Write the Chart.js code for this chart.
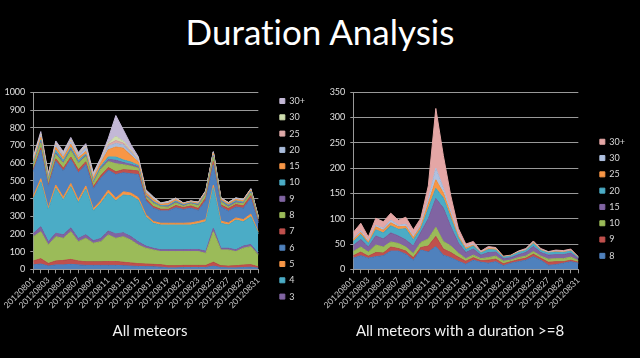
<!DOCTYPE html>
<html><head><meta charset="utf-8">
<script src="https://cdn.jsdelivr.net/npm/chart.js@4/dist/chart.umd.min.js"></script>
<style>
html,body{margin:0;padding:0;background:#000;width:640px;height:358px;overflow:hidden}
#title{position:absolute;left:0;top:14px;width:640px;text-align:center;color:#fff;font:35px/35px Lato,sans-serif;font-variant-ligatures:none;font-feature-settings:"liga" 0}
.sub{position:absolute;top:323px;color:#f2f2f2;font:15px/15px Lato,sans-serif;text-align:center;white-space:nowrap}
.wrap{position:absolute;top:0;width:320px;height:358px}
</style></head><body>
<div id="title">Duration Analysis</div>
<div class="wrap" style="left:0"><canvas id="c1" width="320" height="358"></canvas></div>
<div class="wrap" style="left:320px"><canvas id="c2" width="320" height="358"></canvas></div>
<div class="sub" style="left:50px;width:200px">All meteors</div>
<div class="sub" style="left:310px;width:300px">All meteors with a duration &gt;=8</div>
<script>
const days = ['20120801','20120802','20120803','20120804','20120805','20120806','20120807','20120808','20120809','20120810',
  '20120811','20120812','20120813','20120814','20120815','20120816','20120817','20120818','20120819','20120820',
  '20120821','20120822','20120823','20120824','20120825','20120826','20120827','20120828','20120829','20120830','20120831'];

// durations 0..7 (left chart only)
const d0 = [25,30,18,25,25,28,25,22,22,22,22,22,20,18,16,15,14,12,8,8,10,10,10,10,18,10,8,8,10,12,6];
const d1 = [22,30,15,22,25,28,22,20,20,20,22,22,20,18,16,15,14,14,12,12,12,12,12,12,22,10,10,12,14,14,8];
const d2 = [137,152,104,137,125,156,109,133,105,114,150,131,144,129,105,89,81,74,80,80,78,78,78,68,172,89,91,80,95,102,66];
const d3 = [18,28,18,20,20,22,18,20,15,18,22,25,22,20,18,12,10,10,10,10,10,12,12,12,20,10,10,10,12,12,8];
const d4 = [194,254,180,254,197,233,203,258,168,199,214,187,214,230,235,166,141,140,140,140,140,138,146,167,228,141,131,168,138,157,115];
const d5 = [15,18,12,18,15,18,15,18,12,15,18,15,18,16,15,12,10,10,10,10,10,12,12,12,15,12,12,12,12,15,8];
const d6 = [141,162,118,134,149,135,153,121,113,127,112,133,107,109,130,79,75,70,70,88,78,83,62,109,115,82,66,62,64,88,51];
const d7 = [11,13,11,14,15,14,18,15,12,14,15,16,18,20,20,12,10,9,9,12,11,13,12,14,19,10,15,14,13,16,10];
// durations >= 8 (both charts)
const d8 = [22,27,22,25,27,36,36,30,18,38,34,45,28,23,16,10,18,14,12,15,7,12,15,18,25,18,8,9,12,15,12];
const d9 = [5,7,4,8,5,8,5,6,5,5,12,20,12,10,8,6,5,3,6,5,4,3,4,4,5,4,6,6,3,3,2];
const d10 = [8,10,8,15,12,10,10,8,8,10,14,18,15,13,8,5,5,4,5,6,5,3,4,4,5,4,6,6,6,6,3];
const d15 = [12,15,10,18,16,18,15,14,15,20,40,57,66,38,20,12,12,7,10,8,5,5,6,7,10,7,8,8,8,8,4];
const d20 = [8,10,7,12,12,14,13,22,12,7,20,20,20,17,10,6,6,4,6,4,3,3,4,4,6,4,4,5,4,4,2];
const d25 = [4,4,3,6,5,6,5,5,5,5,10,17,10,7,4,3,2,1,2,2,1,1,1,1,2,1,1,1,1,1,1];
const d30 = [2,3,2,3,4,5,3,4,3,3,8,23,10,6,3,2,2,1,1,1,0,0,1,1,1,1,1,1,1,1,0];
const d30p = [12,15,8,14,13,14,10,14,12,13,27,118,64,31,12,6,5,2,3,2,1,1,1,2,2,2,1,2,2,2,1];

const leftLabels = ['0','1','2','3','4','5','6','7','8','9','10','15','20','25','30','30+'];
const leftData = [d0,d1,d2,d3,d4,d5,d6,d7,d8,d9,d10,d15,d20,d25,d30,d30p];
const leftColors = ['#4F81BD','#C0504D','#9BBB59','#8064A2','#4BACC6','#F79646','#4F81BD','#C0504D','#9BBB59','#8064A2','#4BACC6','#F79646','#A9BCDB','#DDA9A8','#CFDDAE','#C3B8D6'];
const rightLabels = ['8','9','10','15','20','25','30','30+'];
const rightData = [d8,d9,d10,d15,d20,d25,d30,d30p];
const rightColors = ['#4F81BD','#C0504D','#9BBB59','#8064A2','#4BACC6','#F79646','#AFC1E0','#E4A6A5'];

Chart.defaults.font.family = 'Lato';

function makeChart(id, names, data, colors, yMax, yStep, hidden) {
  const datasets = data.map((d, i) => ({
    label: names[i], data: d, backgroundColor: colors[i], borderColor: colors[i],
    borderWidth: 1, pointRadius: 0, fill: i === 0 ? 'origin' : '-1', tension: 0
  }));
  return new Chart(document.getElementById(id), {
    type: 'line',
    data: {labels: days, datasets},
    options: {
      responsive: false, animation: false, devicePixelRatio: 1,
      layout: {padding: {top: 80, bottom: 40.4, left: 0, right: 5}},
      plugins: {
        legend: {position: 'right', reverse: true,
          labels: {boxWidth: 5, boxHeight: 5, padding: 7.3, color: '#d9d9d9', font: {size: 9},
            filter: item => item.datasetIndex >= hidden}},
        tooltip: {enabled: false}
      },
      scales: {
        x: {
          grid: {display: true, drawOnChartArea: false, color: '#999', tickLength: 4},
          border: {color: '#999'},
          ticks: {autoSkip: false, maxRotation: 45, minRotation: 45, color: '#d0d0d0', font: {size: 8.5}, padding: 2,
            callback: function(v, i) { return i % 2 === 0 ? this.getLabelForValue(v) : ''; }},
          afterFit: s => { s.height = 48.3; }
        },
        topGap: {
          type: 'category', position: 'top', display: true,
          grid: {display: false}, border: {display: false}, ticks: {display: false},
          afterFit: s => { s.height = 12.3; }
        },
        y: {
          stacked: true, min: 0, max: yMax,
          ticks: {stepSize: yStep, color: '#e0e0e0', font: {size: 9}, padding: 5,
            callback: v => String(v)},
          grid: {color: '#999', tickLength: 3},
          border: {color: '#999'},
          afterFit: s => { s.width = 33.3; }
        },
        gap: {
          type: 'linear', position: 'right', display: true,
          grid: {display: false}, border: {display: false}, ticks: {display: false},
          afterFit: s => { s.width = 14.2; }
        }
      }
    }
  });
}

makeChart('c1', leftLabels, leftData, leftColors, 1000, 100, 3);
makeChart('c2', rightLabels, rightData, rightColors, 350, 50, 0);
</script>
</body></html>
